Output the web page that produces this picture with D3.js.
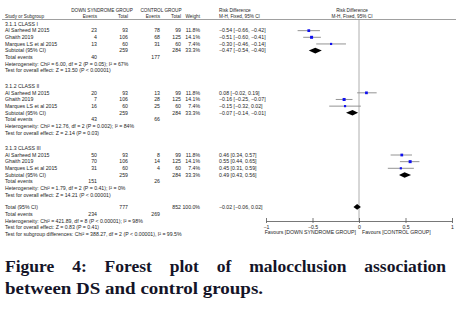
<!DOCTYPE html>
<html>
<head>
<meta charset="utf-8">
<script src="https://cdn.jsdelivr.net/npm/d3@7"></script>
<style>
  body { margin: 0; background: #fff; }
  text { font-family: "Liberation Sans", Arial, sans-serif; fill: #1e1e1e; }
</style>
</head>
<body>
<div id="forest"></div>
<script>
// data
const subgroups = ['3.1.1 CLASS I', '3.1.2 CLASS II', '3.1.3 CLASS III'];
const studies = ['Al Sarheed M 2015', 'Ghaith 2019', 'Marques LS et al 2015'];
const dsEvents = [[23, 4, 13], [20, 7, 16], [50, 70, 31]];
const dsTotal = [93, 106, 60];
const ctEvents = [[78, 68, 31], [13, 28, 25], [8, 14, 4]];
const ctTotal = [99, 125, 60];
const weights = [11.8, 14.1, 7.4];
const rd = [[-0.54, -0.51, -0.30], [0.08, -0.16, -0.15], [0.46, 0.55, 0.45]];
const rdLo = [[-0.66, -0.60, -0.46], [-0.02, -0.25, -0.32], [0.34, 0.44, 0.31]];
const rdHi = [[-0.42, -0.41, -0.14], [0.19, -0.07, 0.02], [0.57, 0.65, 0.59]];
const subRd = [-0.47, -0.07, 0.49];
const subLo = [-0.54, -0.14, 0.43];
const subHi = [-0.40, -0.01, 0.56];
const subDsEvents = [40, 43, 151];
const subCtEvents = [177, 66, 26];
const subTotals = [259, 284];
const heterogeneity = [
  'Heterogeneity: Chi² = 6.00, df = 2 (P = 0.05); I² = 67%',
  'Heterogeneity: Chi² = 12.76, df = 2 (P = 0.002); I² = 84%',
  'Heterogeneity: Chi² = 1.79, df = 2 (P = 0.41); I² = 0%'
];
const overall = [
  'Test for overall effect: Z = 13.50 (P < 0.00001)',
  'Test for overall effect: Z = 2.14 (P = 0.03)',
  'Test for overall effect: Z = 14.21 (P < 0.00001)'
];
const total = {rd: -0.02, lo: -0.06, hi: 0.02, ds: 777, ct: 852, dsEv: 234, ctEv: 269};
const totalTexts = [
  'Heterogeneity: Chi² = 421.89, df = 8 (P < 0.00001); I² = 98%',
  'Test for overall effect: Z = 0.83 (P = 0.41)',
  'Test for subgroup differences: Chi² = 388.27, df = 2 (P < 0.00001), I² = 99.5%'
];
const ticks = [-1, -0.5, 0, 0.5, 1];
const captionLines = [
  'Figure 4: Forest plot of malocclusion association',
  'between DS and control groups.'
];

const fmt = d3.format('.2f');
const ciText = (m, l, h) => `${fmt(m)} [${fmt(l)}, ${fmt(h)}]`;

const width = 472, height = 315;
const svg = d3.select('#forest').append('svg')
    .attr('width', width).attr('height', height);

const fs = 5.2;
// columns
const col = {study: 5, dsEv: 97, dsTot: 128, ctEv: 160, ctTot: 181, weight: 200, ci: 219};
const x = d3.scaleLinear().domain([-1, 1]).range([266, 452]);
const row = i => 24 + i * 6.65;
const blockStart = b => b * 9.35;

function txt(g, xx, yy, s, anchor = 'start', size = fs) {
  return g.append('text')
      .attr('x', xx).attr('y', yy).attr('dy', '0.35em')
      .attr('text-anchor', anchor)
      .attr('font-size', size)
      .text(s);
}

const t = svg.append('g');

// headers
const hs = 4.7;
txt(t, 102, 10, 'DOWN SYNDROME GROUP', 'middle', hs);
txt(t, 161, 10, 'CONTROL GROUP', 'middle', hs);
txt(t, col.ci, 10, 'Risk Difference', 'start', hs);
txt(t, 352, 10, 'Risk Difference', 'middle', hs);
txt(t, col.study, 16.5, 'Study or Subgroup', 'start', hs);
txt(t, col.dsEv, 16.5, 'Events', 'end', hs);
txt(t, col.dsTot, 16.5, 'Total', 'end', hs);
txt(t, col.ctEv, 16.5, 'Events', 'end', hs);
txt(t, col.ctTot, 16.5, 'Total', 'end', hs);
txt(t, col.weight, 16.5, 'Weight', 'end', hs);
txt(t, col.ci, 16.5, 'M-H, Fixed, 95% CI', 'start', hs);
txt(t, 352, 16.5, 'M-H, Fixed, 95% CI', 'middle', hs);

svg.append('line')
    .attr('x1', 2).attr('x2', 456).attr('y1', 19.5).attr('y2', 19.5)
    .attr('stroke', '#888').attr('stroke-width', 0.8);

// zero line
svg.append('line')
    .attr('x1', x(0)).attr('x2', x(0)).attr('y1', 19.5).attr('y2', 221)
    .attr('stroke', '#999').attr('stroke-width', 0.8);

const plot = svg.append('g');
const sq = d3.scaleSqrt().domain([0, 14.1]).range([0, 3]);

function diamond(yy, m, l, h) {
  const hh = 2.8;
  plot.append('path')
      .attr('d', `M${x(l)},${yy}L${x(m)},${yy - hh}L${x(h)},${yy}L${x(m)},${yy + hh}Z`)
      .attr('fill', '#000');
}

subgroups.forEach((name, b) => {
  const s = blockStart(b);
  txt(t, col.study, row(s), name);
  studies.forEach((st, k) => {
    const yy = row(s + 1 + k);
    txt(t, col.study, yy, st);
    txt(t, col.dsEv, yy, dsEvents[b][k], 'end');
    txt(t, col.dsTot, yy, dsTotal[k], 'end');
    txt(t, col.ctEv, yy, ctEvents[b][k], 'end');
    txt(t, col.ctTot, yy, ctTotal[k], 'end');
    txt(t, col.weight, yy, weights[k].toFixed(1) + '%', 'end');
    txt(t, col.ci, yy, ciText(rd[b][k], rdLo[b][k], rdHi[b][k]));
    plot.append('line')
        .attr('x1', x(rdLo[b][k])).attr('x2', x(rdHi[b][k]))
        .attr('y1', yy).attr('y2', yy)
        .attr('stroke', '#888').attr('stroke-width', 0.9);
    const w = sq(weights[k]);
    plot.append('rect')
        .attr('x', x(rd[b][k]) - w / 2).attr('y', yy - w / 2)
        .attr('width', w).attr('height', w)
        .attr('fill', '#1010ee');
  });
  const ys = row(s + 4);
  txt(t, col.study, ys, 'Subtotal (95% CI)');
  txt(t, col.dsTot, ys, subTotals[0], 'end');
  txt(t, col.ctTot, ys, subTotals[1], 'end');
  txt(t, col.weight, ys, '33.3%', 'end');
  txt(t, col.ci, ys, ciText(subRd[b], subLo[b], subHi[b]));
  diamond(ys, subRd[b], subLo[b], subHi[b]);
  const ye = row(s + 5);
  txt(t, col.study, ye, 'Total events');
  txt(t, col.dsEv, ye, subDsEvents[b], 'end');
  txt(t, col.ctEv, ye, subCtEvents[b], 'end');
  txt(t, col.study, row(s + 6), heterogeneity[b]);
  txt(t, col.study, row(s + 7), overall[b]);
});

// overall
const yt = row(27.5);
txt(t, col.study, yt, 'Total (95% CI)');
txt(t, col.dsTot, yt, total.ds, 'end');
txt(t, col.ctTot, yt, total.ct, 'end');
txt(t, col.weight, yt, '100.0%', 'end');
txt(t, col.ci, yt, ciText(total.rd, total.lo, total.hi));
diamond(yt, total.rd, total.lo, total.hi);
txt(t, col.study, row(28.6), 'Total events');
txt(t, col.dsEv, row(28.6), total.dsEv, 'end');
txt(t, col.ctEv, row(28.6), total.ctEv, 'end');
totalTexts.forEach((s, i) => txt(t, col.study, row(29.6 + i), s));

// axis
const ax = svg.append('g')
    .attr('transform', 'translate(0,221)')
    .call(d3.axisBottom(x).tickValues(ticks).tickSize(-3).tickSizeOuter(0)
        .tickFormat(d3.format('')));
ax.select('.domain').attr('stroke', '#555').attr('stroke-width', 0.8);
ax.selectAll('.tick line').attr('stroke', '#555').attr('stroke-width', 0.8)
    .attr('y1', 2);
ax.selectAll('.tick text').attr('font-size', fs).attr('y', 4.5)
    .attr('font-family', '"Liberation Sans", Arial, sans-serif').attr('fill', '#1e1e1e');
txt(t, x(0) - 3, 232, 'Favours [DOWN SYNDROME GROUP]', 'end');
txt(t, x(0) + 3, 232, 'Favours [CONTROL GROUP]', 'start');

// caption
const cap = svg.append('g').attr('font-weight', 'bold').attr('font-size', 17.5);
const words = captionLines[0].split(' ');
const wEls = words.map(w => cap.append('text').text(w).attr('y', 271.5)
    .style('font-family', '"Liberation Serif", serif').style('fill', '#141428'));
const wLen = wEls.map(e => e.node().getComputedTextLength());
const gap = (446 - 5 - d3.sum(wLen)) / (words.length - 1);
let cx = 5;
wEls.forEach((e, i) => { e.attr('x', cx); cx += wLen[i] + gap; });
cap.append('text').text(captionLines[1]).attr('x', 5).attr('y', 293.5)
    .attr('textLength', 258).attr('lengthAdjust', 'spacingAndGlyphs')
    .style('font-family', '"Liberation Serif", serif').style('fill', '#141428');
</script>
</body>
</html>
